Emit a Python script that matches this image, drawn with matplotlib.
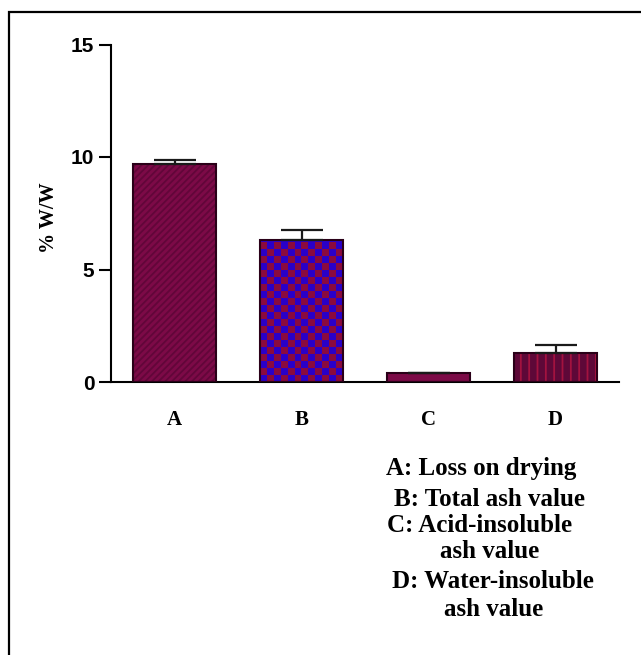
import numpy as np
import matplotlib
matplotlib.use("Agg")
import matplotlib.pyplot as plt
from matplotlib.patches import Rectangle
from matplotlib.colors import ListedColormap

categories = ["A", "B", "C", "D"]
values = [9.68, 6.32, 0.40, 1.29]
errors = [0.20, 0.44, 0.0, 0.36]
yticks = [0, 5, 10, 15]
legend_lines = [
    ("A: Loss on drying", None),
    ("B: Total ash value", None),
    ("C: Acid-insoluble", "ash value"),
    ("D: Water-insoluble", "ash value"),
]

W, H = 641, 655
fig = plt.figure(figsize=(W / 100, H / 100), dpi=100)
fig.patch.set_facecolor("white")

# outer frame
fig.add_artist(Rectangle((9 / W, -0.05), 1.2, 1 - 12 / H + 0.05,
                         transform=fig.transFigure, fill=False,
                         edgecolor="black", linewidth=1.6, zorder=0))

ax = fig.add_axes([111 / W, 1 - 382 / H, 508 / W, (382 - 44.5) / H])
x = np.arange(len(categories))
bw = 0.65

maroon = "#7c0a47"
edge = "#2a0018"
plt.rcParams["hatch.linewidth"] = 1.3

# A: diagonal hatch
ax.bar(x[0], values[0], bw, color=maroon, edgecolor="#620639",
       hatch="/////", linewidth=0, zorder=2)
# B: checkerboard
b = ax.bar(x[1], values[1], bw, color="#2a00c8", linewidth=0, zorder=2)
ny = int(round(values[1] / 0.31))
nx = 12
checker = (np.add.outer(np.arange(ny), np.arange(nx)) % 2).astype(float)
im = ax.imshow(checker, cmap=ListedColormap(["#2a00c8", "#8a0a3e"]),
               extent=(x[1] - bw / 2, x[1] + bw / 2, 0, ny * 0.31),
               origin="lower", interpolation="nearest", aspect="auto",
               zorder=2.1)
im.set_clip_path(b[0])
# C: solid
ax.bar(x[2], values[2], bw, color=maroon, linewidth=0, zorder=2)
# D: vertical stripes
ax.bar(x[3], values[3], bw, color="#5e0838", edgecolor="#a3123f",
       hatch="||", linewidth=0, zorder=2)

# outlines
ax.bar(x, values, bw, fill=False, edgecolor=edge, linewidth=1.5, zorder=3)

# upward error bars
ax.errorbar(x, values, yerr=[np.zeros(len(errors)), errors], fmt="none",
            ecolor="#1a1a1a", elinewidth=1.6, capsize=15, capthick=1.6,
            zorder=4)

ax.set_xlim(-0.5, 3.5)
ax.set_ylim(0, 15)
ax.set_yticks(yticks)
ax.set_yticklabels([str(t) for t in yticks], fontsize=15, fontweight="bold",
                   family="Liberation Sans")
ax.set_xticks(x)
ax.set_xticklabels(categories, fontsize=15, fontweight="bold",
                   family="Liberation Serif")
ax.tick_params(axis="y", length=9, width=1.5, pad=3, direction="out")
ax.tick_params(axis="x", length=0, pad=20)
for s in ["top", "right"]:
    ax.spines[s].set_visible(False)
for s in ["left", "bottom"]:
    ax.spines[s].set_linewidth(1.5)
ax.set_ylabel("% W/W", fontsize=14.5, fontweight="bold",
              family="Liberation Serif")
ax.yaxis.set_label_coords(-52 / 508, (382 - 218) / (382 - 44.5))

# category key
key_pos = [(481, 469), (490, 500), (480, 525), (493, 581)]
sub_pos = [None, None, (490, 551), (494, 610)]
for (main, sub), (cx, cy), sp in zip(legend_lines, key_pos, sub_pos):
    fig.text(cx / W, 1 - cy / H, main, ha="center", va="center",
             fontsize=18, fontweight="bold", family="Liberation Serif")
    if sub:
        fig.text(sp[0] / W, 1 - sp[1] / H, sub, ha="center", va="center",
                 fontsize=18, fontweight="bold", family="Liberation Serif")

fig.savefig("out.png", dpi=100, facecolor="white")
